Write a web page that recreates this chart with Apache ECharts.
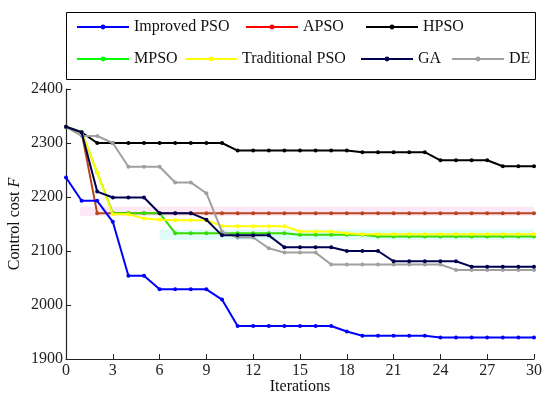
<!DOCTYPE html>
<html>
<head>
<meta charset="utf-8">
<script src="https://cdn.jsdelivr.net/npm/echarts@6/dist/echarts.min.js"></script>
<style>html,body{margin:0;padding:0;background:#fff}#c{width:550px;height:398px}</style>
</head>
<body>
<div id="c"></div>
<script>
const iterations = Array.from({length: 31}, (_, i) => i);
const xTicks = [0, 3, 6, 9, 12, 15, 18, 21, 24, 27, 30];
const yTicks = [1900, 2000, 2100, 2200, 2300, 2400];

const improvedPSO = [2236,2193,2193,2154,2054,2054,2029,2029,2029,2029,2010,
  1961,1961,1961,1961,1961,1961,1961,1951,1943,1943,1943,1943,1943,
  1940,1940,1940,1940,1940,1940,1940];
const apso = [2330,2320,2170,2170,2170,2170,2170,2170,2170,2170,2170,2170,2170,2170,2170,2170,
  2170,2170,2170,2170,2170,2170,2170,2170,2170,2170,2170,2170,2170,2170,2170];
const hpso = [2330,2320,2300,2300,2300,2300,2300,2300,2300,2300,2300,
  2286,2286,2286,2286,2286,2286,2286,2286,2283,2283,2283,2283,2283,
  2268,2268,2268,2268,2257,2257,2257];
const mpso = [2330,2320,2245,2170,2170,2170,2170,2133,2133,2133,2133,2133,2133,2133,2133,
  2130,2130,2130,2130,2130,2127,2127,2127,2127,2127,2127,2127,2127,2127,2127,2127];
const tradPSO = [2330,2320,2245,2168,2168,2160,2158,2157,2157,2157,2146,2146,2146,2146,2146,
  2136,2136,2136,2133,2131,2131,2131,2131,2131,2131,2131,2131,2131,2131,2131,2131];
const ga = [2330,2320,2210,2199,2199,2199,2170,2170,2170,2158,2129,2129,2129,2129,
  2107,2107,2107,2107,2100,2100,2100,2081,2081,2081,2081,2081,2071,2071,2071,2071,2071];
const de = [2330,2313,2313,2300,2256,2256,2256,2227,2227,2207,2136,2125,2125,2105,
  2097,2097,2097,2075,2075,2075,2075,2075,2075,2075,2075,2065,2065,2065,2065,2065,2065];

const seriesNames = ['Improved PSO','APSO','HPSO','MPSO','Traditional PSO','GA','DE'];
const seriesData = [improvedPSO, apso, hpso, mpso, tradPSO, ga, de];
const legendColors = ['#0000ff','#ff0000','#000000','#00ff00','#ffff00','#000050','#a0a0a0'];
const lineColors = ['#0000ff','#b8451c','#000000','#33dd00','#ffff00','#000050','#a0a0a0'];
const zOrder = [9, 3, 4, 5, 6, 8, 7];

// highlight bands [xStart, xEnd, yLow, yHigh]
const pinkBand = [0.9, 30, 2165, 2182];
const cyanBand = [6, 30.3, 2121, 2140];

const legendLeft = [76, 245, 365, 76, 184, 360, 451];
const legendTop = [19, 19, 19, 51, 51, 51, 51];

const font = '"Liberation Serif","Times New Roman",serif';

const series = seriesNames.map((name, k) => ({
  name: name,
  type: 'line',
  data: iterations.map((x, i) => [x, seriesData[k][i]]),
  symbol: 'circle',
  symbolSize: 4,
  z: zOrder[k],
  lineStyle: {width: 2, color: lineColors[k]},
  itemStyle: {color: lineColors[k]},
  emphasis: {disabled: true},
  animation: false
}));

series.push({
  name: 'bands', type: 'line', data: [], z: 1, silent: true,
  markArea: {
    silent: true,
    data: [
      [{coord: [pinkBand[0], pinkBand[2]], itemStyle: {color: '#fce8f6'}}, {coord: [pinkBand[1], pinkBand[3]]}],
      [{coord: [cyanBand[0], cyanBand[2]], itemStyle: {color: '#e0fbfb'}}, {coord: [cyanBand[1], cyanBand[3]]}]
    ]
  }
});

const legends = seriesNames.map((name, k) => ({
  left: legendLeft[k], top: legendTop[k], padding: 0,
  itemWidth: 52, itemHeight: 6, selectedMode: false,
  data: [{name: name, itemStyle: {color: legendColors[k]}, lineStyle: {color: legendColors[k], width: 2}}],
  textStyle: {fontFamily: font, fontSize: 16, color: '#111'}
}));

const chart = echarts.init(document.getElementById('c'), null, {renderer: 'canvas'});
chart.setOption({
  animation: false,
  backgroundColor: '#fff',
  graphic: [{type: 'rect', shape: {x: 66.5, y: 12.5, width: 469, height: 67}, style: {fill: 'none', stroke: '#000', lineWidth: 1}, z: 100}],
  legend: legends,
  grid: {left: 66, right: 16, top: 89, bottom: 39, containLabel: false, outerBoundsMode: 'none'},
  xAxis: {
    type: 'value', min: xTicks[0], max: xTicks[xTicks.length - 1], interval: 3,
    name: 'Iterations', nameLocation: 'middle', nameGap: 20, nameMoveOverlap: false,
    nameTextStyle: {fontFamily: font, fontSize: 16, color: '#111'},
    axisLine: {lineStyle: {color: '#222', width: 1.2}},
    axisTick: {inside: true, length: 5, lineStyle: {color: '#222'}},
    axisLabel: {fontFamily: font, fontSize: 16, color: '#222', margin: 4},
    splitLine: {show: false}
  },
  yAxis: {
    type: 'value', min: yTicks[0], max: yTicks[yTicks.length - 1], interval: 100,
    name: 'Control cost {i|F}', nameLocation: 'middle', nameGap: 43, nameMoveOverlap: false,
    nameTextStyle: {fontFamily: font, fontSize: 16, color: '#111', rich: {i: {fontFamily: font, fontSize: 16, fontStyle: 'italic', color: '#111'}}},
    axisLine: {show: true, lineStyle: {color: '#222', width: 1.2}},
    axisTick: {show: true, inside: true, length: 5, lineStyle: {color: '#222'}},
    axisLabel: {fontFamily: font, fontSize: 16, color: '#222', margin: 3, formatter: v => String(v)},
    splitLine: {show: false}
  },
  series: series
});
</script>
</body>
</html>
